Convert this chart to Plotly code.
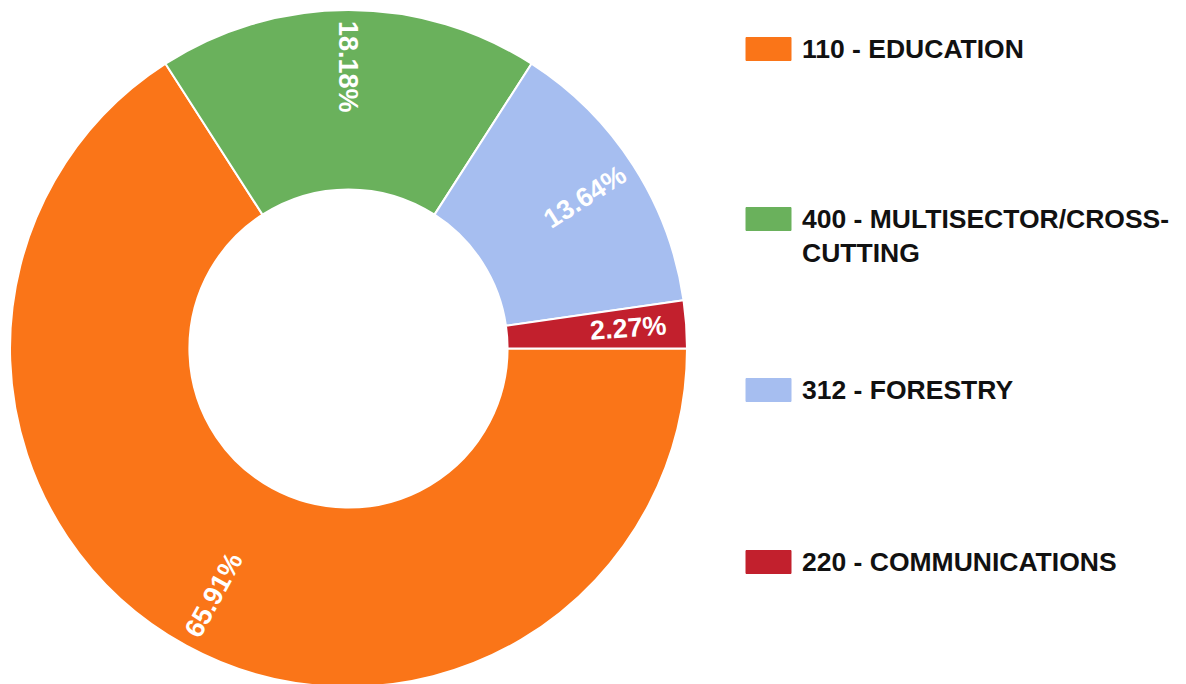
import math
import plotly.graph_objects as go

# Data (order drawn clockwise starting at 3 o'clock)
labels = ["110 - EDUCATION", "400 - MULTISECTOR/CROSS-CUTTING", "312 - FORESTRY", "220 - COMMUNICATIONS"]
legend_texts = ["110 - EDUCATION", "400 - MULTISECTOR/CROSS-<br>CUTTING", "312 - FORESTRY", "220 - COMMUNICATIONS"]
values = [29, 8, 6, 1]
colors = ["#FA7518", "#6AB15C", "#A6BEF0", "#C2202D"]

W, H = 1186, 684
OFF = 8  # page body margin offset of the figure div

# pie geometry in page pixels
CX, CY, R = 348.5, 348.5, 338.5
HOLE = 0.47


def px(xpage):
    return (xpage - OFF) / W


def py(ypage):
    return 1 - (ypage - OFF) / H


fig = go.Figure()
fig.add_trace(go.Pie(
    labels=labels,
    values=values,
    sort=False,
    direction="clockwise",
    rotation=90,
    hole=HOLE,
    marker=dict(colors=colors, line=dict(color="white", width=2)),
    textinfo="none",
    showlegend=False,
    domain=dict(x=[px(CX - R), px(CX + R)], y=[py(CY + R), py(CY - R)]),
))

annotations = []
shapes = []

# Percentage labels, oriented radially at each slice's mid-angle
total = sum(values)
cum = 0.0
label_font = dict(family="Liberation Sans, Arial, sans-serif", size=27, color="white", weight="bold")
for v in values:
    start = cum
    cum += v
    mid_frac = (start + cum) / 2 / total
    theta = -360 * mid_frac  # clockwise from 3 o'clock, ccw-positive degrees
    th = math.radians(theta)
    rt = 0.83 * R
    xt = CX + rt * math.cos(th)
    yt = CY - rt * math.sin(th)
    if math.cos(th) > 1e-9:
        ang = -theta
    else:
        ang = 180 - theta
    ang = ((ang + 180) % 360) - 180
    if abs(math.cos(th)) <= 1e-9:
        ang = 90
    annotations.append(dict(xref="paper", yref="paper", x=px(xt), y=py(yt),
                            xanchor="center", yanchor="middle",
                            text=f"{100 * v / total:.2f}%", showarrow=False,
                            textangle=ang, font=label_font))

# Custom legend (large markers with wide spacing)
marker_centers = [49, 219, 390, 562]
for i, (txt, col) in enumerate(zip(legend_texts, colors)):
    yc = marker_centers[i]
    shapes.append(dict(type="rect", xref="paper", yref="paper",
                       x0=px(746), x1=px(791), y0=py(yc + 11.5), y1=py(yc - 11.5),
                       fillcolor=col, line=dict(color=col, width=1)))
    nlines = txt.count("<br>") + 1
    ytext = yc + (nlines - 1) * 17
    annotations.append(dict(xref="paper", yref="paper", x=px(800), y=py(ytext),
                            xanchor="left", yanchor="middle", align="left",
                            text=txt, showarrow=False,
                            font=dict(family="Liberation Sans, Arial, sans-serif", size=26.5,
                                      color="#111111", weight="bold")))

fig.update_layout(
    width=W, height=H,
    margin=dict(l=0, r=0, t=0, b=0),
    paper_bgcolor="white",
    plot_bgcolor="white",
    shapes=shapes,
    annotations=annotations,
    showlegend=False,
)

fig.write_html("out.html")
